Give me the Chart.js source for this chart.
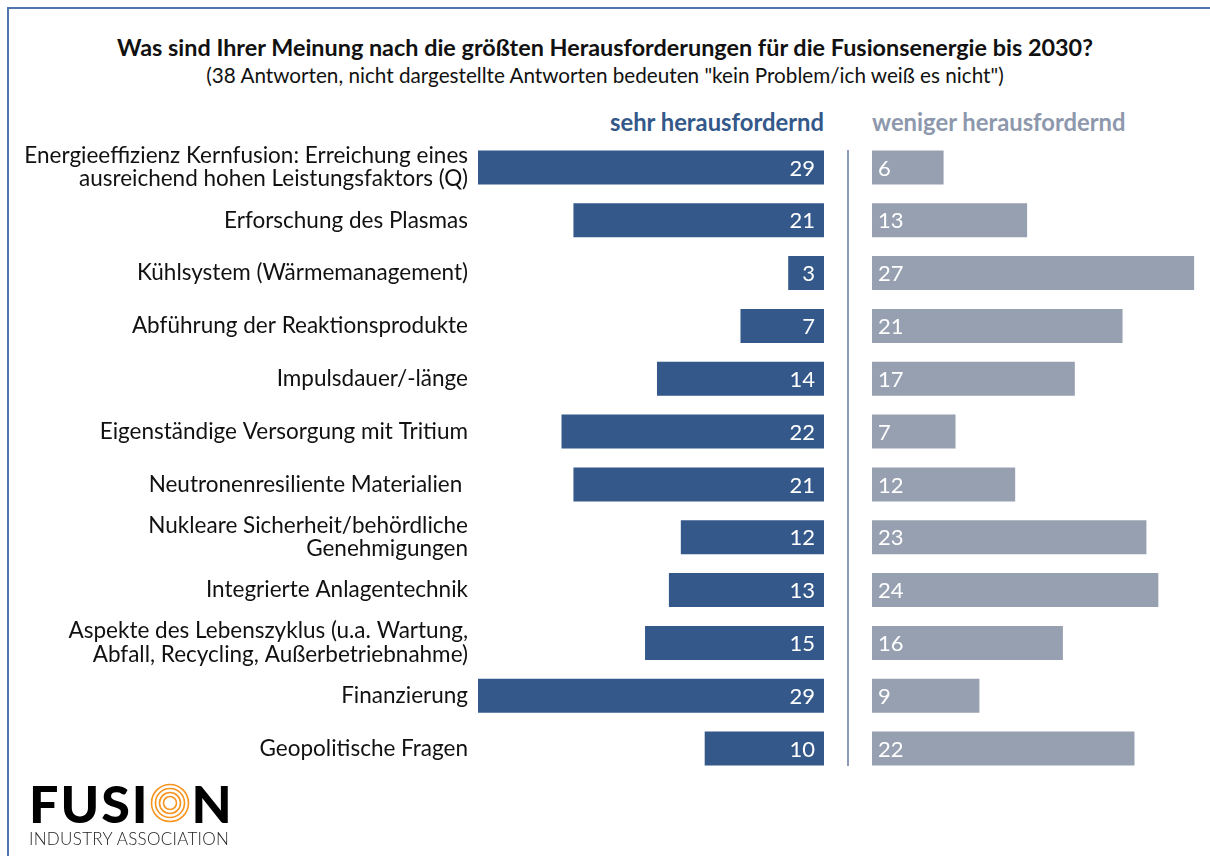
<!DOCTYPE html>
<html>
<head>
<meta charset="utf-8">
<script src="https://cdn.jsdelivr.net/npm/chart.js@4"></script>
<style>
  html, body { margin: 0; padding: 0; background: #fff; }
  body { width: 1210px; height: 856px; position: relative; overflow: hidden; font-family: Lato, "Open Sans", sans-serif; }
  .frame { position: absolute; left: 7px; top: 7px; right: -10px; bottom: -10px; border-left: 2px solid #4f76a8; border-top: 2px solid #4f76a8; }
  .title { position: absolute; left: 0; width: 1210px; top: 33px; text-align: center; font-weight: bold; font-size: 23.4px; color: #111; }
  .subtitle { position: absolute; left: 0; width: 1210px; top: 63px; text-align: center; font-size: 20.7px; color: #111; }
  .head { position: absolute; top: 108px; font-weight: bold; font-size: 23.8px; }
  .head.left { right: calc(1210px - 824px); color: #335889; }
  .head.right { left: 872px; color: #8d98ad; }
  .divider { position: absolute; left: 847px; top: 150px; width: 2px; height: 616px; background: #8a9bb8; }
  #left { position: absolute; left: 0; top: 141px; }
  #right { position: absolute; left: 872px; top: 141px; }
  .logo { position: absolute; left: 29px; top: 778px; color: #000; }
  .logo .big { font-family: Lato, sans-serif; font-weight: 900; font-size: 52px; line-height: 50px; letter-spacing: 2px; display: flex; align-items: center; }
  .logo .big svg { margin: 0 2px 0 0; }
  .logo .small { font-family: Lato, sans-serif; font-weight: 300; font-size: 17px; letter-spacing: 0.3px; color: #222; }
</style>
</head>
<body>
<div class="frame"></div>
<div class="title">Was sind Ihrer Meinung nach die größten Herausforderungen für die Fusionsenergie bis 2030?</div>
<div class="subtitle">(38 Antworten, nicht dargestellte Antworten bedeuten "kein Problem/ich weiß es nicht")</div>
<div class="head left">sehr herausfordernd</div>
<div class="head right">weniger herausfordernd</div>
<div class="divider"></div>
<canvas id="left" width="830" height="634"></canvas>
<canvas id="right" width="346" height="634"></canvas>
<div class="logo">
  <div class="big">FUSI<svg width="40" height="40" viewBox="0 0 40 40">
    <circle cx="20" cy="20" r="18.5" fill="none" stroke="#f7941d" stroke-width="1.6"/>
    <circle cx="20" cy="20" r="14.5" fill="none" stroke="#f7941d" stroke-width="1.6"/>
    <circle cx="20" cy="20" r="10.5" fill="none" stroke="#f7941d" stroke-width="1.6"/>
    <circle cx="20" cy="20" r="6.5" fill="none" stroke="#f7941d" stroke-width="1.6"/>
  </svg>N</div>
  <div class="small">INDUSTRY ASSOCIATION</div>
</div>
<script>
const categories = [
  ['Energieeffizienz Kernfusion: Erreichung eines', 'ausreichend hohen Leistungsfaktors (Q)'],
  'Erforschung des Plasmas',
  'Kühlsystem (Wärmemanagement)',
  'Abführung der Reaktionsprodukte',
  'Impulsdauer/-länge',
  'Eigenständige Versorgung mit Tritium',
  'Neutronenresiliente Materialien ',
  ['Nukleare Sicherheit/behördliche', 'Genehmigungen'],
  'Integrierte Anlagentechnik',
  ['Aspekte des Lebenszyklus (u.a. Wartung,', 'Abfall, Recycling, Außerbetriebnahme)'],
  'Finanzierung',
  'Geopolitische Fragen'
];
const sehrHerausfordernd = [29, 21, 3, 7, 14, 22, 21, 12, 13, 15, 29, 10];
const wenigerHerausfordernd = [6, 13, 27, 21, 17, 7, 12, 23, 24, 16, 9, 22];
const xMax = 29;

// white numbers inside the bars
const valueLabels = {
  id: 'valueLabels',
  afterDatasetsDraw(chart, args, opts) {
    const ctx = chart.ctx;
    const meta = chart.getDatasetMeta(0);
    const data = chart.data.datasets[0].data;
    ctx.save();
    ctx.font = '22px Lato';
    ctx.fillStyle = '#ffffff';
    ctx.textBaseline = 'middle';
    ctx.textAlign = opts.align;
    meta.data.forEach((bar, i) => {
      const x = opts.align === 'right' ? bar.base - 9 : bar.base + 6;
      ctx.fillText(String(data[i]), x, bar.y + 1);
    });
    ctx.restore();
  }
};

// category names, drawn at the y scale positions (multi-line ones centred on the bar)
const categoryLabels = {
  id: 'categoryLabels',
  afterDraw(chart, args, opts) {
    if (!opts.show) return;
    const ctx = chart.ctx;
    const y = chart.scales.y;
    const lineH = 23.5;
    ctx.save();
    ctx.font = '22.5px Lato';
    ctx.fillStyle = '#111';
    ctx.textAlign = 'right';
    ctx.textBaseline = 'middle';
    chart.data.labels.forEach((lab, i) => {
      const lines = Array.isArray(lab) ? lab : [lab];
      const cy = y.getPixelForValue(i);
      lines.forEach((ln, k) => {
        ctx.fillText(ln, chart.chartArea.left - 10, cy + (k - (lines.length - 1) / 2) * lineH);
      });
    });
    ctx.restore();
  }
};

function makeChart(id, values, color, side) {
  const isLeft = side === 'left';
  return new Chart(document.getElementById(id), {
    type: 'bar',
    data: {
      labels: categories,
      datasets: [{
        data: values,
        backgroundColor: color,
        borderWidth: 0,
        barPercentage: 0.644,
        categoryPercentage: 1
      }]
    },
    options: {
      indexAxis: 'y',
      responsive: false,
      animation: false,
      devicePixelRatio: 1,
      layout: { padding: { left: isLeft ? 478 : 0, right: isLeft ? 6 : 0, top: 0, bottom: 0 } },
      plugins: {
        legend: { display: false },
        tooltip: { enabled: false },
        valueLabels: { align: isLeft ? 'right' : 'left' },
        categoryLabels: { show: isLeft }
      },
      scales: {
        x: {
          display: false,
          min: 0,
          max: xMax,
          reverse: isLeft
        },
        y: {
          display: false
        }
      }
    },
    plugins: [valueLabels, categoryLabels]
  });
}

makeChart('left', sehrHerausfordernd, '#335889', 'left');
makeChart('right', wenigerHerausfordernd, '#97a0b1', 'right');
</script>
</body>
</html>
